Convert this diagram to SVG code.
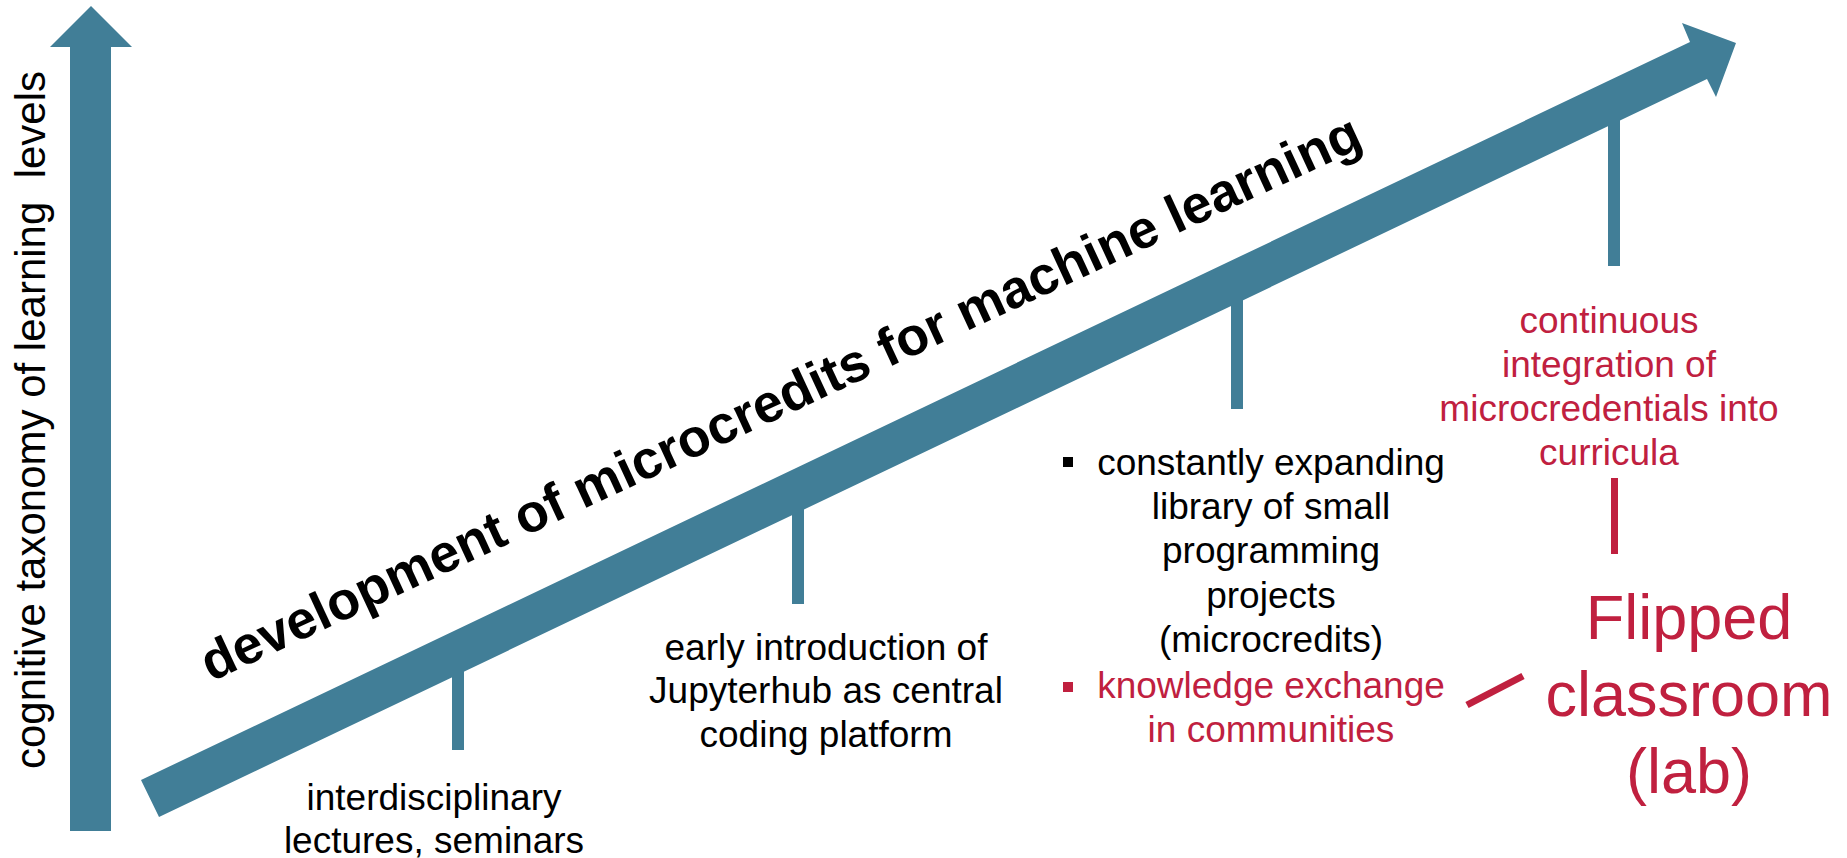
<svg xmlns="http://www.w3.org/2000/svg" width="1847" height="858" viewBox="0 0 1847 858">
  <style>
    .axis { fill: #417E97; }
    .tick { fill: #417E97; }
    .link { stroke: #C0203F; stroke-width: 7; fill: none; }
    .lbl { font-family: "Liberation Sans", Arial, sans-serif; font-size: 37px; fill: #000; text-anchor: middle; }
    .red { fill: #C0203F; }
    .title { font-family: "Liberation Sans", Arial, sans-serif; font-size: 53.5px; font-weight: bold; fill: #000; }
    .big { font-family: "Liberation Sans", Arial, sans-serif; font-size: 63px; fill: #C0203F; text-anchor: middle; }
  </style>

  <!-- vertical axis: cognitive level -->
  <g id="vertical-axis">
    <polygon class="axis" points="70,831 70,47 50,47 91,6 132,47 111,47 111,831"/>
    <text class="lbl" style="font-size:42px" transform="translate(45,420) rotate(-90)" xml:space="preserve">cognitive taxonomy of learning  levels</text>
  </g>

  <!-- diagonal timeline arrow -->
  <g id="timeline-arrow">
    <polygon class="axis" points="141,780 1690,42 1682,23 1736,43 1716,97 1707,79 159,817"/>
    <text class="title" transform="translate(211,682) rotate(-24.9)">development of microcredits for machine learning</text>
  </g>

  <!-- connectors: timeline ticks and red links -->
  <g id="connectors">
    <rect class="tick" x="452" y="665" width="12" height="85"/>
    <rect class="tick" x="792" y="500" width="12" height="104"/>
    <rect class="tick" x="1231" y="292" width="12" height="117"/>
    <rect class="tick" x="1608" y="112" width="12" height="154"/>
    <line class="link" x1="1614.5" y1="478" x2="1614.5" y2="554"/>
    <line class="link" x1="1467" y1="705" x2="1523" y2="676"/>
  </g>

  <g id="stage-lectures">
    <text class="lbl" x="434" y="810">interdisciplinary</text>
    <text class="lbl" x="434" y="853">lectures, seminars</text>
  </g>

  <g id="stage-jupyterhub">
    <text class="lbl" x="826" y="660">early introduction of</text>
    <text class="lbl" x="826" y="703">Jupyterhub as central</text>
    <text class="lbl" x="826" y="747">coding platform</text>
  </g>

  <g id="stage-library">
    <rect x="1063" y="457" width="10" height="10" fill="#000"/>
    <text class="lbl" x="1271" y="475">constantly expanding</text>
    <text class="lbl" x="1271" y="519">library of small</text>
    <text class="lbl" x="1271" y="563">programming</text>
    <text class="lbl" x="1271" y="608">projects</text>
    <text class="lbl" x="1271" y="652">(microcredits)</text>
    <rect x="1063" y="682" width="10" height="10" class="red"/>
    <text class="lbl red" x="1271" y="698">knowledge exchange</text>
    <text class="lbl red" x="1271" y="742">in communities</text>
  </g>

  <g id="stage-integration">
    <text class="lbl red" x="1609" y="333">continuous</text>
    <text class="lbl red" x="1609" y="377">integration of</text>
    <text class="lbl red" x="1609" y="421">microcredentials into</text>
    <text class="lbl red" x="1609" y="465">curricula</text>
  </g>

  <g id="flipped-classroom">
    <text class="big" x="1689" y="639">Flipped</text>
    <text class="big" x="1689" y="716">classroom</text>
    <text class="big" x="1689" y="793">(lab)</text>
  </g>
</svg>
